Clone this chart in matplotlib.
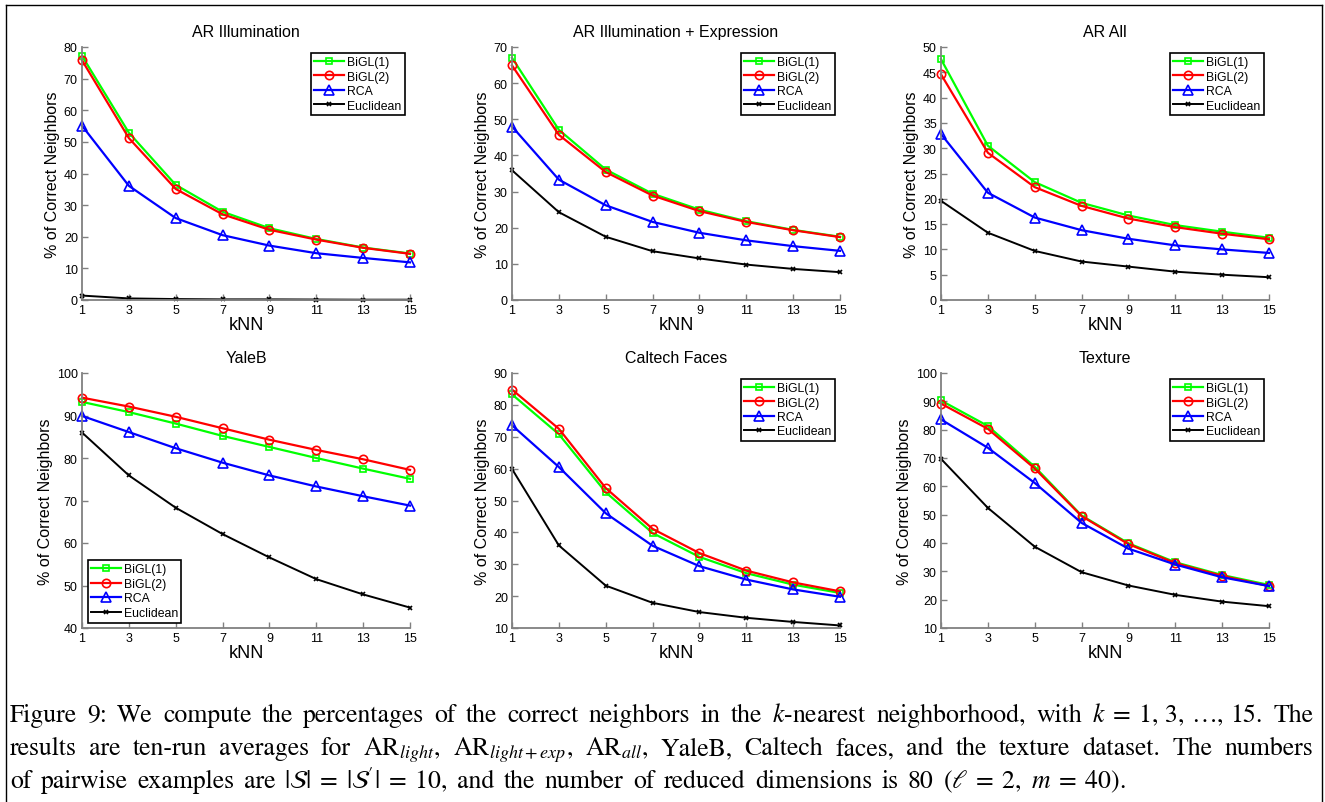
import matplotlib
matplotlib.use("Agg")
import matplotlib.pyplot as plt
from matplotlib.lines import Line2D

plt.rcParams["font.family"] = ["Liberation Sans", "DejaVu Sans"]
plt.rcParams["mathtext.fontset"] = "stix"

# x values shared by every panel
k_values = [1, 3, 5, 7, 9, 11, 13, 15]
series_names = ["BiGL(1)", "BiGL(2)", "RCA", "Euclidean"]

# AR Illumination
ar_light_bigl1 = [77.2, 52.9, 36.4, 27.9, 22.7, 19.3, 16.6, 14.7]
ar_light_bigl2 = [75.8, 51.2, 35.1, 27.1, 22.2, 19.1, 16.5, 14.6]
ar_light_rca = [55.1, 36.1, 25.9, 20.5, 17.2, 14.8, 13.3, 11.9]
ar_light_euc = [1.4, 0.5, 0.3, 0.2, 0.2, 0.15, 0.1, 0.1]

# AR Illumination + Expression
ar_exp_bigl1 = [67.0, 47.1, 36.1, 29.4, 25.0, 21.8, 19.4, 17.5]
ar_exp_bigl2 = [64.9, 45.7, 35.4, 28.9, 24.6, 21.6, 19.3, 17.4]
ar_exp_rca = [48.0, 33.3, 26.2, 21.6, 18.6, 16.5, 14.9, 13.6]
ar_exp_euc = [35.9, 24.3, 17.5, 13.5, 11.5, 9.8, 8.6, 7.7]

# AR All
ar_all_bigl1 = [47.6, 30.5, 23.3, 19.2, 16.7, 14.8, 13.5, 12.3]
ar_all_bigl2 = [44.6, 29.1, 22.3, 18.6, 16.1, 14.4, 13.1, 12.0]
ar_all_rca = [32.8, 21.2, 16.3, 13.8, 12.1, 10.8, 10.0, 9.3]
ar_all_euc = [19.6, 13.3, 9.7, 7.6, 6.6, 5.6, 5.0, 4.5]

# YaleB
yaleb_bigl1 = [93.2, 90.8, 88.1, 85.2, 82.6, 80.0, 77.5, 75.1]
yaleb_bigl2 = [94.2, 92.1, 89.7, 87.0, 84.3, 81.9, 79.7, 77.2]
yaleb_rca = [89.9, 86.1, 82.3, 78.9, 75.9, 73.3, 71.0, 68.8]
yaleb_euc = [86.0, 75.9, 68.3, 62.1, 56.6, 51.5, 47.9, 44.8]

# Caltech Faces
caltech_bigl1 = [83.3, 70.8, 52.6, 39.8, 32.3, 27.2, 23.6, 21.0]
caltech_bigl2 = [84.8, 72.5, 53.9, 41.1, 33.5, 28.0, 24.3, 21.5]
caltech_rca = [73.6, 60.5, 46.0, 35.8, 29.4, 25.2, 22.1, 19.8]
caltech_euc = [59.9, 35.9, 23.3, 17.9, 15.0, 13.2, 11.9, 10.8]

# Texture
texture_bigl1 = [90.3, 81.3, 66.9, 49.7, 39.9, 33.2, 28.7, 25.2]
texture_bigl2 = [89.2, 80.3, 66.3, 49.5, 39.6, 32.9, 28.4, 24.8]
texture_rca = [83.6, 73.6, 61.2, 47.1, 38.0, 32.4, 27.9, 24.8]
texture_euc = [69.7, 52.4, 38.7, 29.7, 25.0, 21.7, 19.3, 17.7]

titles = ["AR Illumination", "AR Illumination + Expression", "AR All",
          "YaleB", "Caltech Faces", "Texture"]
y_limits = [(0, 80), (0, 70), (0, 50), (40, 100), (10, 90), (10, 100)]
y_steps = [10, 10, 5, 10, 10, 10]
legend_locs = ["upper right", "upper right", "upper right",
               "lower left", "upper right", "upper right"]

panel_data = [
    [ar_light_bigl1, ar_light_bigl2, ar_light_rca, ar_light_euc],
    [ar_exp_bigl1, ar_exp_bigl2, ar_exp_rca, ar_exp_euc],
    [ar_all_bigl1, ar_all_bigl2, ar_all_rca, ar_all_euc],
    [yaleb_bigl1, yaleb_bigl2, yaleb_rca, yaleb_euc],
    [caltech_bigl1, caltech_bigl2, caltech_rca, caltech_euc],
    [texture_bigl1, texture_bigl2, texture_rca, texture_euc],
]

styles = [
    dict(color="#00ff00", marker="s", ms=5, lw=1.6),
    dict(color="#ff0000", marker="o", ms=6, lw=1.6),
    dict(color="#0000ff", marker="^", ms=6.5, lw=1.6),
    dict(color="black", marker="x", ms=3.5, lw=1.4),
]

W, H = 1325, 803
fig = plt.figure(figsize=(W / 100, H / 100), dpi=100)

col_x = [(82, 410), (512, 840), (941, 1269)]
row_y = [(48, 301), (374, 629)]

for i in range(6):
    x0, x1 = col_x[i % 3]
    y0, y1 = row_y[i // 3]
    ax = fig.add_axes([x0 / W, 1 - y1 / H, (x1 - x0) / W, (y1 - y0) / H])
    for name, vals, st in zip(series_names, panel_data[i], styles):
        ax.plot(k_values, vals, color=st["color"], marker=st["marker"],
                markersize=st["ms"], linewidth=st["lw"], markerfacecolor="none",
                markeredgecolor=st["color"], markeredgewidth=1.2,
                clip_on=False, label=name)
    lo, hi = y_limits[i]
    ax.set_xlim(1, 15)
    ax.set_ylim(lo, hi)
    ax.set_xticks(k_values)
    ax.set_yticks(range(lo, hi + 1, y_steps[i]))
    for side in ["top", "right"]:
        ax.spines[side].set_visible(False)
    for side in ["left", "bottom"]:
        ax.spines[side].set_color("#808080")
        ax.spines[side].set_linewidth(1.3)
    ax.tick_params(direction="in", length=4, width=1, color="#808080",
                   labelsize=9, labelcolor="black", pad=3)
    ax.set_title(titles[i], fontsize=11.5, pad=8)
    ax.set_xlabel("kNN", fontsize=13, labelpad=0)
    ax.set_ylabel("% of Correct Neighbors", fontsize=11.5, labelpad=3)
    leg = ax.legend(loc=legend_locs[i], fontsize=8.8, fancybox=False,
                    edgecolor="black", framealpha=1, borderpad=0.3,
                    labelspacing=0.2, handlelength=2.4, handletextpad=0.25,
                    borderaxespad=0.45)
    leg.get_frame().set_linewidth(1.2)

# frame around the whole figure (bottom edge lies outside the crop)
bx0, by0, bx1 = 5.5 / W, 1 - 5.5 / H, 1321.5 / W
fig.add_artist(Line2D([bx0, bx0], [0, by0], transform=fig.transFigure, color="black", lw=1))
fig.add_artist(Line2D([bx0, bx1], [by0, by0], transform=fig.transFigure, color="black", lw=1))
fig.add_artist(Line2D([bx1, bx1], [0, by0], transform=fig.transFigure, color="black", lw=1))

# caption, spread word by word to the same line ends as the paper's text
caption_lines = [
    r"Figure 9: We compute the percentages of the correct neighbors in the $k$-nearest neighborhood, with $k\;=\;1,\,3,\,\ldots,\,15$. The",
    r"results are ten-run averages for $\mathrm{AR}_{light}$, $\mathrm{AR}_{light+exp}$, $\mathrm{AR}_{all}$, YaleB, Caltech faces, and the texture dataset. The numbers",
    r"of pairwise examples are $|\mathcal{S}|\;=\;|\mathcal{S}^{\prime}|\;=\;10$, and the number of reduced dimensions is 80 ($\ell\;=\;2$, $m\;=\;40$).",
]
caption_baselines = [722, 755, 788]
caption_ends = [1313, 1313, 1126]
cap_x0 = 10
cap_size = 18.5

renderer = fig.canvas.get_renderer()
for line, yb, x_end in zip(caption_lines, caption_baselines, caption_ends):
    words = line.split(" ")
    arts = [fig.text(0, 1 - yb / H, w, fontsize=cap_size, family="STIXGeneral",
                     va="baseline", ha="left") for w in words]
    widths = [a.get_window_extent(renderer).width for a in arts]
    gap = (x_end - cap_x0 - sum(widths)) / (len(words) - 1)
    x = cap_x0
    for a, w in zip(arts, widths):
        a.set_x(x / W)
        x += w + gap

fig.savefig("out.png", dpi=100)
